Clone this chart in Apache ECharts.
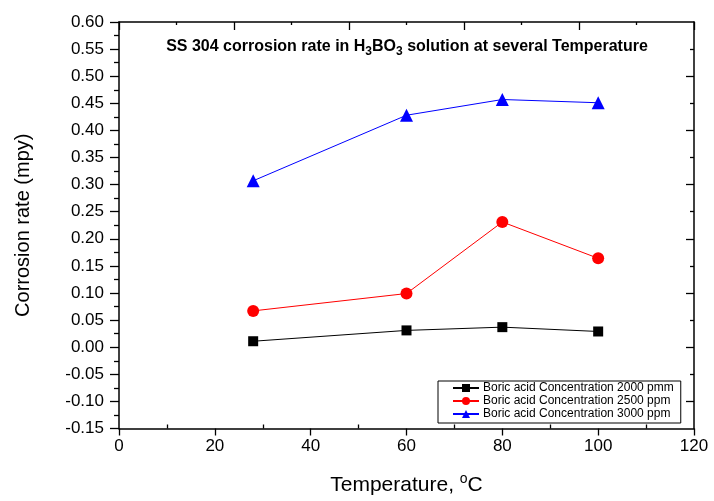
<!DOCTYPE html>
<html>
<head>
<meta charset="utf-8">
<script src="https://cdn.jsdelivr.net/npm/echarts@6/dist/echarts.min.js"></script>
<style>
  html, body { margin: 0; padding: 0; background: #fff; }
  #chart { width: 714px; height: 501px; }
</style>
</head>
<body>
<div id="chart"></div>
<script>
// temperatures (°C) and corrosion rates (mpy)
const temps = [28, 60, 80, 100]
const rate2000 = [0.011, 0.031, 0.037, 0.029]
const rate2500 = [0.067, 0.099, 0.231, 0.164]
const rate3000 = [0.307, 0.428, 0.457, 0.451]
const seriesNames = [
  "Boric acid Concentration 2000 pmm",
  "Boric acid Concentration 2500 ppm",
  "Boric acid Concentration 3000 ppm"
]
// tick marks of the mirror / minor axes (Origin style frame)
const xMinorTicks = [10, 30, 50, 70, 90, 110]
const rightMajorTicks = [-0.1, 0, 0.1, 0.2, 0.3, 0.4, 0.5]
const rightMinorTicks = [-0.05, 0.05, 0.15, 0.25, 0.35, 0.45, 0.55]

const font = "Liberation Sans, Arial, sans-serif"
const black = "#000"

function pairs(ys) {
  return temps.map((t, i) => [t, ys[i]])
}

// plain frame axis: line + ticks, no labels
function frameAxis(pos, extra) {
  return Object.assign({
    type: "value",
    position: pos,
    axisLine: { show: true, onZero: false, lineStyle: { color: black, width: 1.5 } },
    axisTick: { show: true, length: 8, lineStyle: { color: black, width: 1.3 } },
    axisLabel: { show: false },
    splitLine: { show: false }
  }, extra)
}

const chart = echarts.init(document.getElementById("chart"))
chart.setOption({
  animation: false,
  backgroundColor: "#fff",
  title: {
    text: "{a|SS 304 corrosion rate in H}{s|3}{a|BO}{s|3}{a| solution at several Temperature}",
    left: 402,
    top: 34,
    textAlign: "center",
    textStyle: {
      rich: {
        a: { fontFamily: font, fontSize: 16, fontWeight: "bold", color: black, lineHeight: 18, verticalAlign: "top" },
        s: { fontFamily: font, fontSize: 12, fontWeight: "bold", color: black, lineHeight: 18, verticalAlign: "top", padding: [7, 0, 0, 0] }
      }
    }
  },
  legend: {
    orient: "vertical",
    left: 438,
    top: 381,
    itemGap: 1,
    itemWidth: 26,
    itemHeight: 10,
    padding: [1, 7, 3, 14],
    borderColor: black,
    borderWidth: 1,
    textStyle: { fontFamily: font, fontSize: 12, lineHeight: 12, color: black, padding: [0, 0, 0, -1] },
    data: seriesNames
  },
  grid: { left: 119, right: 20, top: 22, bottom: 67 },
  xAxis: [
    frameAxis("bottom", {
      min: 0, max: 120, interval: 20,
      axisTick: { show: true, length: 7, lineStyle: { color: black, width: 1.3 } },
      name: "{a|Temperature, }{s|o}{a|C}",
      nameLocation: "middle",
      nameGap: 44,
      nameTextStyle: {
        rich: {
          a: { fontFamily: font, fontSize: 21, color: black },
          s: { fontFamily: font, fontSize: 14, color: black, padding: [0, 0, 12, 0] }
        }
      },
      axisLabel: { show: true, fontFamily: font, fontSize: 17, color: black, margin: 9 }
    }),
    frameAxis("top", {
      min: 0, max: 100, interval: 20,
      axisTick: { show: true, inside: true, length: 8, lineStyle: { color: black, width: 1.3 } },
      minorTick: { show: true, splitNumber: 2, length: 3, lineStyle: { color: black, width: 1.3 } }
    }),
    frameAxis("bottom", {
      min: 0, max: 120,
      axisLine: { show: false, onZero: false },
      axisTick: { show: true, inside: true, length: 4, customValues: xMinorTicks, lineStyle: { color: black, width: 1.3 } }
    })
  ],
  yAxis: [
    frameAxis("left", {
      min: -0.15, max: 0.6, interval: 0.05,
      axisTick: { show: true, length: 9, lineStyle: { color: black, width: 1.3 } },
      minorTick: { show: true, splitNumber: 2, length: 5, lineStyle: { color: black, width: 1.3 } },
      name: "Corrosion rate (mpy)",
      nameLocation: "middle",
      nameGap: 86,
      nameTextStyle: { fontFamily: font, fontSize: 20, color: black },
      axisLabel: {
        show: true, fontFamily: font, fontSize: 17, color: black, margin: 15,
        formatter: v => v.toFixed(2)
      }
    }),
    frameAxis("right", {
      min: -0.15, max: 0.6,
      axisTick: { show: true, inside: true, length: 8, customValues: rightMajorTicks, lineStyle: { color: black, width: 1.3 } }
    }),
    frameAxis("right", {
      min: -0.15, max: 0.6,
      axisLine: { show: false, onZero: false },
      axisTick: { show: true, inside: true, length: 4, customValues: rightMinorTicks, lineStyle: { color: black, width: 1.3 } }
    })
  ],
  series: [
    {
      name: seriesNames[0], type: "line", data: pairs(rate2000),
      symbol: "rect", symbolSize: 10,
      itemStyle: { color: black }, lineStyle: { color: black, width: 1 }
    },
    {
      name: seriesNames[1], type: "line", data: pairs(rate2500),
      symbol: "circle", symbolSize: 12,
      itemStyle: { color: "#ff0000" }, lineStyle: { color: "#ff0000", width: 1 }
    },
    {
      name: seriesNames[2], type: "line", data: pairs(rate3000),
      symbol: "triangle", symbolSize: 13,
      itemStyle: { color: "#0000ff" }, lineStyle: { color: "#0000ff", width: 1 }
    }
  ]
})
</script>
</body>
</html>
